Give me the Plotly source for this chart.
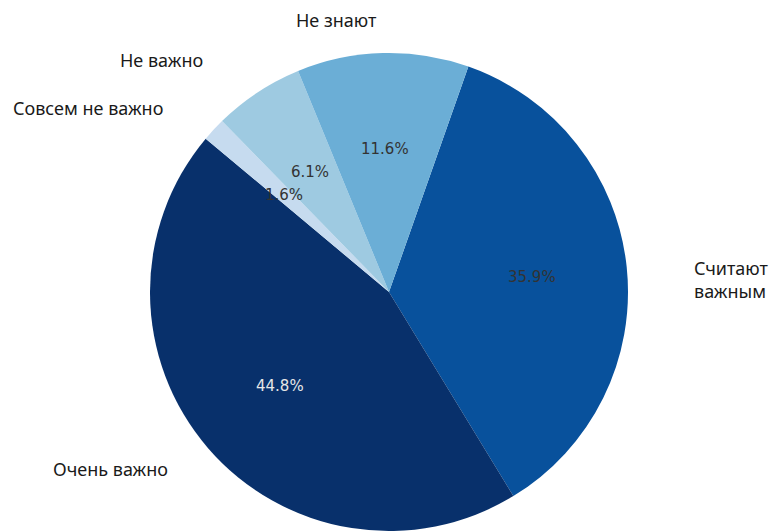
import math
import plotly.graph_objects as go

# Data (clockwise order, starting just right of 12 o'clock)
labels = ["Считают важным", "Очень важно", "Совсем не важно", "Не важно", "Не знают"]
label_text = ["Считают<br>важным", "Очень важно", "Совсем не важно", "Не важно", "Не знают"]
values = [35.9, 44.8, 1.6, 6.1, 11.6]
colors = ["#08519c", "#08306b", "#c6dbef", "#9ecae1", "#6baed6"]
pct_colors = ["#333333", "#e6e6e6", "#333333", "#333333", "#333333"]
# manual label nudges (pixels: right, down) as in the original layout
label_nudge = [(25, 17), (-7, -5), (-19, 6), (-30, 2), (-3, 8)]

START = 19.4          # degrees clockwise from 12 o'clock
PCT_DIST = 0.6
LABEL_DIST = 1.17

fig = go.Figure(go.Pie(
    labels=labels, values=values, sort=False, direction="clockwise",
    rotation=START, marker=dict(colors=colors, line=dict(width=0)),
    textinfo="none", hoverinfo="label+percent", showlegend=False,
))

total = sum(values)
ann = []
cum = 0.0
for lab, v, pc, (nx, ny) in zip(label_text, values, pct_colors, label_nudge):
    mid = math.radians(START + (cum + v / 2) / total * 360)
    cum += v
    s, c = math.sin(mid), math.cos(mid)
    # percent label
    ann.append(dict(x=0.5 + 0.5 * PCT_DIST * s, y=0.5 + 0.5 * PCT_DIST * c,
                    xref="paper", yref="paper", showarrow=False,
                    text=f"{v / total * 100:.1f}%",
                    font=dict(family="DejaVu Sans", size=15, color=pc),
                    xanchor="center", yanchor="middle"))
    # category label
    ann.append(dict(x=0.5 + 0.5 * LABEL_DIST * s, y=0.5 + 0.5 * LABEL_DIST * c,
                    xref="paper", yref="paper", showarrow=False, text=lab,
                    xshift=nx, yshift=-ny,
                    font=dict(family="Noto Sans", size=18, color="#1a1a1a"),
                    xanchor="left" if s > 0 else "right", yanchor="middle",
                    align="left"))

fig.update_layout(
    width=771, height=531,
    margin=dict(l=150, r=143, t=53, b=0),
    paper_bgcolor="white", plot_bgcolor="white",
    annotations=ann,
)
fig.write_html("out.html")
